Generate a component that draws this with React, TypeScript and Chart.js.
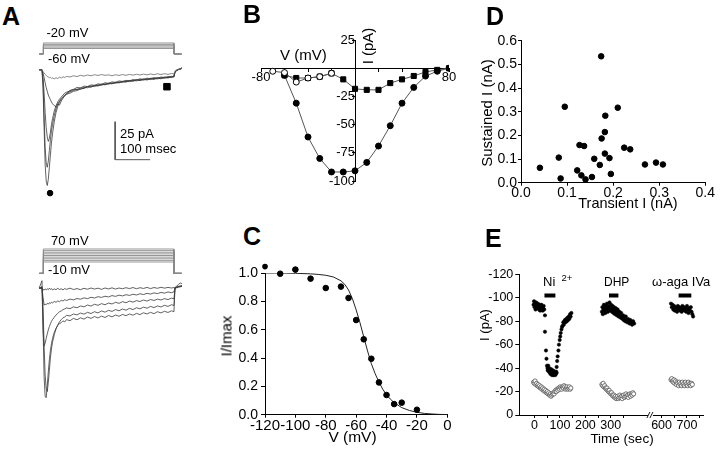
import React, { useEffect, useRef } from 'react';
import { Chart, registerables } from 'chart.js';

Chart.register(...registerables);

const FONT = '"Liberation Sans", Arial, Helvetica, sans-serif';
Chart.defaults.font.family = FONT;
Chart.defaults.color = '#000';

// ---------------- Panel A : current traces ----------------
const traceTime = [-8, 0, 3, 6, 9, 12, 15, 18, 21, 24, 27, 30, 35, 40, 45, 50, 55, 60, 65, 70, 80, 90, 100, 110, 120, 130, 140, 150, 160, 170, 180, 190, 200, 210, 220, 230, 240, 250, 260, 270, 280, 290, 300, 310, 320, 330, 340, 350, 360, 370, 377, 380, 385, 390, 395, 400];

const topTrace5 = [0.3, 0, -12, -38, -62, -73, -76, -72, -64, -56, -48, -42,
  -34, -28, -24, -21, -19.5, -18, -17.2, -16,
  -15.2, -14, -13.6, -12.4, -12.1, -11, -11.3, -10.2, -10.5, -9.4,
  -9.8, -8.7, -9.1, -8.2, -8.5, -7.6, -8, -7.1, -7.4, -6.5,
  -7, -6.1, -6.6, -5.8, -6.2, -5.3, -5.8, -4.9, -5.3, -4.4,
  -4.6, -1.5, -0.5, 0.2, 0.6, 1.4];
const topTrace4 = [0, 0.2, -9, -30, -51, -61, -64, -60, -53, -46, -40, -36,
  -30, -25.5, -22.5, -20.5, -18.8, -17.6, -16.4, -15.6,
  -14.3, -13.5, -12.6, -12.8, -11.4, -11.7, -10.5, -10.9, -9.8, -10.1,
  -9.1, -9.4, -8.5, -8.8, -7.9, -8.2, -7.3, -7.7, -6.8, -7.2,
  -6.3, -6.7, -5.9, -6.3, -5.5, -5.9, -5.1, -5.5, -4.7, -5,
  -4.3, -1.2, -0.3, 0.3, 0.4, 1.1];
const topTrace3 = [0.2, 0, -5, -15, -28, -38, -44, -47, -45, -41, -36, -32,
  -27, -23.5, -21, -19.2, -17.8, -16.5, -15.2, -14.6,
  -13.8, -12.7, -12.9, -11.8, -12, -10.9, -11.1, -10.1, -10.4, -9.3,
  -9.6, -8.8, -9, -8, -8.3, -7.4, -7.7, -6.9, -7.2, -6.4,
  -6.7, -5.9, -6.2, -5.4, -5.8, -5, -5.4, -4.6, -5, -4.2,
  -4.4, -1, 0, 0.4, 0.8, 1.2];
const topTrace2 = [0, 0.3, -2, -5, -8.5, -11.5, -14, -16.5, -18, -19.5, -21, -22.2,
  -23.4, -24.2, -22.3, -23.1, -20.4, -18.6, -16.7, -15.5,
  -13.4, -12.8, -11.5, -11.8, -10.6, -10.9, -9.8, -10.1, -9.1, -9.5,
  -8.4, -8.8, -7.8, -8.2, -7.2, -7.6, -6.8, -7.1, -6.3, -6.6,
  -5.8, -6.2, -5.4, -5.7, -5, -5.4, -4.6, -5, -4.3, -4.6,
  -4, -1.3, -0.2, 0.3, 0.9, 1.3];
const topTrace1 = [0, 0, -1, -2, -2.8, -3.5, -4.2, -4.6, -5.1, -4.8, -5.5, -5.2,
  -5.8, -5.1, -5.6, -4.7, -5.3, -4.5, -4.9, -4.2,
  -4.6, -3.8, -4.3, -3.5, -4, -3.3, -3.8, -3.1, -3.6, -3,
  -3.5, -3.2, -3.8, -3.1, -3.6, -3, -3.5, -2.9, -3.4, -2.8,
  -3.3, -2.7, -3.2, -2.6, -3.1, -2.5, -3, -2.4, -2.9, -2.3,
  -2.6, -0.8, 0, 0.5, 0.7, 1.2];

const botTraceA = [0.2, 5, -25, -58, -71, -72, -64, -55, -47, -41, -36.5, -33,
  -29, -26.3, -24.5, -23.2, -22.6, -21.4, -22.1, -20.6,
  -21.3, -19.8, -20.7, -19.4, -20.3, -18.9, -19.8, -18.6, -19.5, -18.3,
  -19.2, -17.9, -18.8, -17.6, -18.4, -17.2, -18, -16.9, -17.7, -16.5,
  -17.3, -16.1, -16.9, -15.8, -16.7, -15.4, -16.2, -15.1, -15.9, -14.8,
  -15.4, 0.5, 1.5, 2.5, 3.5, 3];
const botTraceB = [0, 1, -12, -38, -57, -66, -68, -62, -54, -46, -40, -35.5,
  -30.5, -26.8, -24, -22.1, -20.6, -19.4, -18.9, -17.8,
  -18.2, -16.9, -17.5, -16.3, -17, -15.8, -16.6, -15.4, -16.2, -14.9,
  -15.7, -14.5, -15.2, -14, -14.8, -13.6, -14.4, -13.2, -14, -12.8,
  -13.5, -12.4, -13.1, -11.9, -12.7, -11.6, -12.3, -11.2, -11.9, -10.8,
  -11.3, 0.2, 0.8, 1.3, 1.6, 1.8];
const botTraceC = [0, 1, -28, -38, -36, -33, -30, -27.4, -25.2, -23.4, -21.8, -20.6,
  -19, -17.6, -16.5, -15.4, -14.9, -14, -13.6, -12.9,
  -13.4, -12.2, -12.8, -11.6, -12.2, -11, -11.7, -10.5, -11.2, -10.1,
  -10.8, -9.7, -10.3, -9.2, -9.9, -8.8, -9.5, -8.4, -9.1, -8.1,
  -8.7, -7.7, -8.4, -7.4, -8, -7.1, -7.7, -6.8, -7.4, -6.5,
  -6.9, 0, 0.6, 1, 1.3, 1.5];
const botTraceD = [0, 0, -6, -11, -10.5, -10.8, -9.9, -10.4, -9.5, -10, -9.1, -9.6,
  -8.7, -9.2, -8.3, -8.8, -7.9, -8.4, -7.5, -8,
  -7.1, -7.6, -6.7, -7.2, -6.3, -6.8, -5.9, -6.4, -5.5, -6,
  -5.2, -5.7, -4.8, -5.3, -4.5, -5, -4.2, -4.7, -3.9, -4.4,
  -3.6, -4.1, -3.3, -3.8, -3, -3.5, -2.7, -3.2, -2.4, -2.9,
  -2.3, 0, 0.4, 0.8, 1, 1.2];
const botTraceE = [0, 0, -0.8, -1.2, -0.4, -1, -0.3, -0.9, 0.1, -0.7, -0.2, -1.1,
  -0.4, -0.9, 0, -0.8, -0.3, -1, -0.2, -0.7,
  0.1, -0.8, -0.2, -0.9, 0, -0.6, 0.2, -0.5, 0.1, -0.7,
  0.2, -0.4, 0.3, -0.5, 0.2, -0.3, 0.4, -0.2, 0.5, -0.3,
  0.4, -0.1, 0.6, -0.2, 0.5, 0, 0.7, 0.1, 0.6, 0.2,
  0.5, 0.3, 0.8, 1, 1.2, 1.4];

// voltage protocols (mV) and step timing (ms)
const topStepLevels = [-20, -30, -40, -50, -60];
const topHolding = -100;
const bottomStepLevels = [70, 60, 50, 40, 30, 20, 10, 0, -10];
const bottomHolding = -80;
const stepTimes = [-8, 4, 377, 399];

// markers: transient peak (circle) and sustained (square)
const markerT = [23, 357];
const markerI = [-81, -11];
// scale bar: 25 pA x 100 ms
const scaleBarT = [209, 209, 309];
const scaleBarI = [-34, -59, -59];

// ---------------- Panel B : I-V ----------------
const bPeakV = [-60, -50, -40, -30, -20, -10, 0, 10, 20, 30, 40, 50, 60, 70, 80];
const bPeakI = [-6.3, -31, -61, -80, -92, -92, -91, -83.5, -69, -51, -31, -17, -7, -2.7, 0];
const bSustV = [-60, -50, -40, -30, -20, -10, 0, 10, 20, 30, 40, 50, 60, 70, 80];
const bSustI = [-6.3, -8.7, -8.7, -7.5, -4.5, -9.9, -18.3, -19.2, -19.2, -13.2, -9.9, -6.9, -3.3, -1.5, 0];
const bOpenV = [-70, -60, -50, -40, -30, -20];
const bOpenI = [-2.7, -3.9, -12.3, -8.7, -7.5, -4.5];

// ---------------- Panel C : inactivation ----------------
const cV = [-120, -110, -100, -90, -80, -70, -65, -60, -55, -50, -45, -40, -35, -30, -20];
const cI = [1.045, 0.995, 1.024, 0.96, 0.894, 0.904, 0.824, 0.668, 0.532, 0.395, 0.228, 0.139, 0.075, 0.085, 0.035];
const fitV = [-120, -110, -100, -90, -85, -80, -75, -70, -67.5, -65, -62.5, -60, -57.5, -55, -52.5, -50, -47.5, -45, -42.5, -40, -37.5, -35, -30, -25, -20, -15, -10, -5, 0];
const fitI = [1.0, 1.0, 0.998, 0.994, 0.99, 0.984, 0.972, 0.945, 0.92, 0.88, 0.82, 0.74, 0.65, 0.55, 0.45, 0.36, 0.29, 0.23, 0.18, 0.14, 0.11, 0.085, 0.05, 0.03, 0.017, 0.009, 0.005, 0.002, 0.001];

// ---------------- Panel D : sustained vs transient ----------------
const dTransient = [0.041, 0.082, 0.086, 0.095, 0.122, 0.127, 0.131, 0.137, 0.140, 0.154, 0.159, 0.171, 0.174, 0.175, 0.182, 0.183, 0.182, 0.192, 0.195, 0.210, 0.224, 0.237, 0.269, 0.293, 0.308];
const dSustained = [0.063, 0.106, 0.018, 0.321, 0.052, 0.159, 0.031, 0.155, 0.014, 0.024, 0.101, 0.075, 0.534, 0.187, 0.214, 0.283, 0.123, 0.104, 0.037, 0.317, 0.148, 0.141, 0.077, 0.085, 0.077];

// ---------------- Panel E : time course ----------------
const niT = [-4, -2, 0, 1, 3, 4, 6, 7, 9, 10, 12, 13, 15, 16, 18, 19, 21, 22, 24, 25, 27, 28, 30, 32, 34, 36, 38,
  41, 41, 45, 47, 49, 51, 52, 54, 55, 57, 58, 60, 61, 63, 64, 66, 67, 69, 70, 72, 73, 75, 76, 78, 79, 81, 82, 84, 85, 87,
  87, 89, 91, 94, 96, 99, 101, 103, 106, 108, 110, 113, 115, 117, 120, 122, 125, 127, 130, 132, 135, 137, 140, 142, 145];
const niI = [-94, -97, -92, -95, -93, -90, -96, -93, -91, -94, -92, -95, -91, -93, -90, -94, -92, -89, -93, -91, -94, -90, -92, -89, -91, -93, -90,
  -85, -71, -55, -48, -42, -40, -38, -42, -39, -37, -40, -36, -38, -35, -37, -39, -36, -34, -37, -35, -38, -34, -36, -35, -37, -34, -36, -35, -37, -36,
  -41, -46, -50, -55, -60, -64, -67, -70, -73, -75, -76, -79, -77, -80, -81, -79, -82, -80, -83, -81, -84, -82, -86, -84, -87];
const niOpenT = [-4, -1, 2, 5, 8, 11, 14, 17, 20, 23, 26, 29, 32, 35, 38, 41, 44, 47, 50, 53, 56, 59, 62, 65, 68, 71, 74, 77, 80, 83, 86, 89, 92, 95, 98, 101, 104, 107, 110, 113, 116, 119, 122, 125, 128, 131, 134, 137, 140, 143];
const niOpenI = [-28, -27, -29, -26, -27, -25, -26, -24, -25, -23, -24, -22, -23, -21, -22, -20, -21, -19, -20, -18, -19, -17, -18, -16, -17, -18, -19, -18, -20, -21, -20, -22, -21, -23, -22, -24, -23, -22, -24, -23, -25, -24, -22, -23, -24, -22, -23, -24, -22, -23];
const dhpT = [265, 267, 269, 271, 273, 275, 277, 279, 281, 283, 285, 287, 289, 291, 293, 295, 297, 299, 301, 303, 305, 307, 309, 311, 313, 315, 317,
  320, 322, 324, 327, 329, 331, 334, 336, 339, 341, 344, 346, 349, 351, 354, 357, 359, 362, 365, 368, 371, 374, 377, 380, 384, 388, 392];
const dhpI = [-88, -92, -86, -90, -94, -89, -91, -87, -93, -90, -95, -91, -88, -93, -90, -96, -92, -89, -94, -91, -88, -93, -90, -87, -92, -89, -86,
  -91, -88, -85, -90, -87, -84, -88, -85, -83, -87, -84, -82, -85, -81, -83, -80, -84, -81, -79, -82, -80, -78, -81, -79, -77, -80, -78];
const dhpOpenT = [265, 268, 270, 273, 276, 279, 282, 285, 288, 291, 294, 297, 300, 303, 306, 309, 312, 315, 318, 321, 324, 327, 330, 333, 336, 339, 342, 345, 348, 351, 354, 357, 360, 363, 366, 369, 372, 375, 378, 381, 384, 387, 390];
const dhpOpenI = [-26, -25, -27, -24, -25, -23, -22, -23, -21, -20, -21, -19, -18, -19, -17, -16, -17, -15, -16, -14, -15, -16, -14, -15, -17, -15, -16, -14, -16, -17, -15, -16, -18, -16, -17, -15, -17, -18, -16, -18, -17, -19, -18];
const agaT = [637, 640, 643, 646, 649, 652, 655, 658, 661, 664, 667, 670, 673, 676, 679, 682, 685, 688, 691, 694, 697, 700, 703, 706, 709, 712, 715, 718, 721, 724];
const agaI = [-95, -92, -94, -90, -93, -89, -92, -91, -88, -93, -90, -92, -89, -91, -88, -93, -90, -92, -89, -91, -88, -93, -90, -87, -91, -89, -92, -88, -86, -84];
const agaOpenT = [637, 640, 643, 646, 649, 652, 655, 658, 661, 664, 667, 670, 673, 676, 679, 682, 685, 688, 691, 694, 697, 700, 703, 706, 709, 712, 715, 718, 721];
const agaOpenI = [-30, -31, -29, -28, -30, -27, -29, -26, -28, -27, -25, -28, -26, -27, -25, -28, -26, -27, -25, -28, -26, -27, -25, -28, -26, -27, -25, -27, -26];
const drugBarStart = [39, 293, 667];
const drugBarEnd = [82, 330, 717];
const drugBarLevel = -102;
const eTicks = [0, 100, 200, 300, 600, 700];
const eMinorTicks = [50, 150, 250, 350, 650, 750];
const eBreakGap = 100; // time removed by the axis break (400..600 s)
const eBreakAt = 458;

// ---------------- helpers ----------------
const xy = (xs: number[], ys: number[]) => xs.map((x, i) => ({ x, y: ys[i] }));
const eAxis = (t: number) => (t >= 500 ? t - eBreakGap : t);
const exy = (ts: number[], ys: number[]) => ts.map((t, i) => ({ x: eAxis(t), y: ys[i] }));

const stepPath = (level: number, hold: number) => [
  { x: stepTimes[0], y: hold }, { x: stepTimes[1], y: hold }, { x: stepTimes[1], y: level },
  { x: stepTimes[2], y: level }, { x: stepTimes[2], y: hold }, { x: stepTimes[3], y: hold },
];

const lineDs = (data: any[], color: string, width: number, extra: any = {}) => ({
  data, showLine: true, borderColor: color, borderWidth: width, pointRadius: 0, fill: false, ...extra,
});

const baseOpts = (padding: any) => ({
  responsive: false,
  animation: false,
  events: [],
  layout: { padding, autoPadding: false },
  plugins: { legend: { display: false }, tooltip: { enabled: false } },
});

const bare = (xmin: number, xmax: number, ymin: number, ymax: number) => ({
  ...baseOpts(0),
  scales: {
    x: { type: 'linear', display: false, min: xmin, max: xmax },
    y: { type: 'linear', display: false, min: ymin, max: ymax },
  },
});

function axis(o: any) {
  return {
    type: 'linear', min: o.min, max: o.max, reverse: !!o.reverse, position: o.position,
    border: { display: true, color: '#000', width: 1 },
    grid: { display: true, drawOnChartArea: false, drawTicks: true, tickLength: o.tickLength ?? 4, color: '#000', tickColor: '#000', lineWidth: 1 },
    ticks: {
      color: '#000', font: { size: o.fontSize, family: FONT, lineHeight: 1 }, padding: o.pad ?? 2,
      maxRotation: 0, minRotation: 0, autoSkip: false, callback: (v: number) => o.label(v),
    },
    afterBuildTicks: (ax: any) => { ax.ticks = o.ticks.map((v: number) => ({ value: v })); },
    afterFit: (ax: any) => {
      if (o.size == null) return;
      if (ax.isHorizontal()) ax.height = o.size; else ax.width = o.size;
    },
  };
}

// draws markers of dataset 0 that fall just outside the plot area (Chart.js skips them)
const outsidePoints = {
  id: 'outsidePoints',
  afterDatasetsDraw(chart: any) {
    const meta = chart.getDatasetMeta(0);
    const a = chart.chartArea;
    const ctx = chart.ctx;
    ctx.save();
    ctx.fillStyle = '#000';
    meta.data.forEach((pt: any) => {
      if (pt.y < a.top - 3 || pt.x < a.left - 3) {
        ctx.beginPath();
        ctx.arc(pt.x, pt.y, 2.8, 0, Math.PI * 2);
        ctx.fill();
      }
    });
    ctx.restore();
  },
};

const traceColor = '#3a3a3a';
const protoColor = '#8a8a8a';

// ---------------- chart builders ----------------
const makeTopProtocol = () => ({
  type: 'scatter',
  data: { datasets: topStepLevels.map((v) => lineDs(stepPath(v, topHolding), protoColor, 0.9)) },
  options: bare(-34.29, 422.86, -129.1, 30.9),
});

const makeBottomProtocol = () => ({
  type: 'scatter',
  data: { datasets: bottomStepLevels.map((v) => lineDs(stepPath(v, bottomHolding), protoColor, 0.9)) },
  options: bare(-34.29, 422.86, -108.5, 100.8),
});

const makeTopTraces = () => ({
  type: 'scatter',
  data: {
    datasets: [
      { data: [{ x: markerT[0], y: markerI[0] }], pointRadius: 2.8, pointBackgroundColor: '#000', pointBorderColor: '#000', clip: false },
      { data: [{ x: markerT[1], y: markerI[1] }], pointStyle: 'rect', pointRadius: 4.6, pointBackgroundColor: '#000', pointBorderColor: '#000', clip: false },
      lineDs(xy(scaleBarT, scaleBarI), '#555', 1),
      lineDs(xy(traceTime, topTrace1), '#6a6a6a', 0.8),
      lineDs(xy(traceTime, topTrace2), traceColor, 0.8),
      lineDs(xy(traceTime, topTrace3), traceColor, 0.8),
      lineDs(xy(traceTime, topTrace4), traceColor, 0.8),
      lineDs(xy(traceTime, topTrace5), traceColor, 0.8),
    ],
  },
  options: bare(-34.29, 422.86, -85.53, 7.89),
});

const makeBottomTraces = () => ({
  type: 'scatter',
  data: {
    datasets: [
      lineDs(xy(traceTime, botTraceE), traceColor, 0.8),
      lineDs(xy(traceTime, botTraceD), traceColor, 0.8),
      lineDs(xy(traceTime, botTraceC), traceColor, 0.8),
      lineDs(xy(traceTime, botTraceB), traceColor, 0.8),
      lineDs(xy(traceTime, botTraceA), traceColor, 0.8),
    ],
  },
  options: bare(-34.29, 422.86, -80.07, 6.78),
});

const makeB = () => ({
  type: 'scatter',
  data: {
    datasets: [
      lineDs(xy(bOpenV, bOpenI), '#555', 1, { pointRadius: 3, pointBackgroundColor: '#fff', pointBorderColor: '#000', pointBorderWidth: 1 }),
      lineDs(xy(bSustV, bSustI), '#555', 1, { pointStyle: 'rect', pointRadius: 3.6, pointBackgroundColor: '#000', pointBorderColor: '#000' }),
      lineDs(xy(bPeakV, bPeakI), '#555', 1, { pointRadius: 3, pointBackgroundColor: '#000', pointBorderColor: '#000' }),
    ],
  },
  options: {
    ...baseOpts({ left: 21, right: 11, top: 15, bottom: 19 }),
    scales: {
      x: axis({ min: -80, max: 80, position: { y: 0 }, ticks: [-80, -60, -40, -20, 20, 40, 60, 80], label: (v: number) => (v === -80 || v === 80 ? String(v) : ''), fontSize: 13, tickLength: 3, pad: 0 }),
      y: axis({ min: -100, max: 25, position: { x: 0 }, ticks: [25, 0, -25, -50, -75, -100], label: (v: number) => (v === 0 ? '' : String(v)), fontSize: 13, tickLength: 3, pad: 2 }),
    },
  },
});

const makeC = () => ({
  type: 'scatter',
  data: {
    datasets: [
      { data: xy(cV, cI), pointRadius: 2.8, pointBackgroundColor: '#000', pointBorderColor: '#000', clip: false },
      lineDs(xy(fitV, fitI), '#222', 1),
    ],
  },
  options: {
    ...baseOpts({ left: 0, right: 12.7, top: 18, bottom: 0 }),
    scales: {
      x: axis({ min: -120, max: 0, ticks: [-120, -100, -80, -60, -40, -20, 0], label: (v: number) => String(v), fontSize: 15, size: 39.3, tickLength: 3, pad: 1 }),
      y: axis({ min: 0, max: 1, ticks: [0, 0.2, 0.4, 0.6, 0.8, 1], label: (v: number) => v.toFixed(1), fontSize: 14, size: 65, tickLength: 4, pad: 3 }),
    },
  },
  plugins: [outsidePoints],
});

const makeD = () => ({
  type: 'scatter',
  data: {
    datasets: [
      { data: xy(dTransient, dSustained), pointRadius: 2.8, pointBackgroundColor: '#000', pointBorderColor: '#000', clip: false },
    ],
  },
  options: {
    ...baseOpts({ left: 0, right: 14.7, top: 15.7, bottom: 0 }),
    scales: {
      x: axis({ min: 0, max: 0.4, ticks: [0, 0.1, 0.2, 0.3, 0.4], label: (v: number) => v.toFixed(1), fontSize: 14, size: 42.3, tickLength: 3, pad: 0 }),
      y: axis({ min: 0, max: 0.6, ticks: [0, 0.1, 0.2, 0.3, 0.4, 0.5, 0.6], label: (v: number) => v.toFixed(1), fontSize: 14, size: 61, tickLength: 3, pad: 1 }),
    },
  },
});

const breakPlugin = {
  id: 'axisBreak',
  afterDraw(chart: any) {
    const { ctx } = chart;
    const x = chart.scales.x.getPixelForValue(eBreakAt);
    const y = chart.chartArea.bottom;
    ctx.save();
    ctx.fillStyle = '#fff';
    ctx.fillRect(x - 3, y - 1, 5, 3);
    ctx.strokeStyle = '#000';
    ctx.lineWidth = 0.9;
    ctx.beginPath();
    ctx.moveTo(x - 4, y + 3); ctx.lineTo(x - 1, y - 3);
    ctx.moveTo(x - 1, y + 3); ctx.lineTo(x + 2, y - 3);
    ctx.stroke();
    ctx.restore();
  },
};

const makeE = () => {
  const tickPos = [...eTicks, ...eMinorTicks].map(eAxis);
  const labelOf: any = {};
  eTicks.forEach((t) => { labelOf[eAxis(t)] = String(t); });
  const filled = { pointRadius: 1.7, pointBackgroundColor: '#000', pointBorderColor: '#000', pointBorderWidth: 0.5, clip: false };
  const open = { pointRadius: 2.1, pointBackgroundColor: '#fff', pointBorderColor: '#555', pointBorderWidth: 0.8, clip: false };
  return {
    type: 'scatter',
    data: {
      datasets: [
        ...drugBarStart.map((s, i) => lineDs([{ x: eAxis(s), y: drugBarLevel }, { x: eAxis(drugBarEnd[i]), y: drugBarLevel }], '#000', 4, { borderCapStyle: 'butt' })),
        { data: exy(niT, niI), ...filled },
        { data: exy(dhpT, dhpI), ...filled },
        { data: exy(agaT, agaI), ...filled },
        { data: exy(niOpenT, niOpenI), ...open },
        { data: exy(dhpOpenT, dhpOpenI), ...open },
        { data: exy(agaOpenT, agaOpenI), ...open },
      ],
    },
    options: {
      ...baseOpts({ left: 0, right: 17, top: 12.3, bottom: 0 }),
      scales: {
        x: axis({ min: -60, max: 663, ticks: tickPos, label: (v: number) => labelOf[v] ?? '', fontSize: 12.5, size: 39, tickLength: 3, pad: 1 }),
        y: axis({ min: -120, max: 0, reverse: true, ticks: [-120, -100, -80, -60, -40, -20, 0], label: (v: number) => String(v), fontSize: 12.5, size: 59.3, tickLength: 4, pad: 2 }),
      },
    },
    plugins: [breakPlugin],
  };
};

// ---------------- components ----------------
function ChartCanvas({ x, y, w, h, make }: any) {
  const ref = useRef<HTMLCanvasElement>(null);
  useEffect(() => {
    const chart = new Chart(ref.current as HTMLCanvasElement, make());
    return () => chart.destroy();
  }, []);
  return <canvas ref={ref} width={w} height={h} style={{ position: 'absolute', left: x, top: y, width: w, height: h }} />;
}

function Txt({ x, y, size = 13, bold = false, center = false, children }: any) {
  return (
    <div style={{
      position: 'absolute', left: x, top: y - size * 0.85, fontSize: size, lineHeight: 1,
      fontWeight: bold ? 'bold' : 'normal', fontFamily: FONT, whiteSpace: 'nowrap', color: '#000',
      transform: center ? 'translateX(-50%)' : undefined,
    }}>{children}</div>
  );
}

function VTxt({ cx, cy, size = 15, children }: any) {
  return (
    <div style={{
      position: 'absolute', left: cx, top: cy, fontSize: size, lineHeight: 1, fontFamily: FONT,
      whiteSpace: 'nowrap', color: '#000', transform: 'translate(-50%,-50%) rotate(-90deg)',
    }}>{children}</div>
  );
}

export default function App() {
  return (
    <div style={{ position: 'absolute', left: 0, top: 0, width: 720, height: 454, background: '#fff', overflow: 'hidden', fontFamily: FONT }}>
      {/* Panel A */}
      <ChartCanvas x={30} y={36} w={160} h={22} make={makeTopProtocol} />
      <ChartCanvas x={30} y={58} w={160} h={142} make={makeTopTraces} />
      <ChartCanvas x={30} y={244} w={160} h={34} make={makeBottomProtocol} />
      <ChartCanvas x={30} y={278} w={160} h={132} make={makeBottomTraces} />
      {/* Panels B-E */}
      <ChartCanvas x={240} y={25} w={220} h={175} make={makeB} />
      <ChartCanvas x={200} y={255} w={260} h={199} make={makeC} />
      <ChartCanvas x={460} y={25} w={260} h={200} make={makeD} />
      <ChartCanvas x={460} y={262} w={260} h={192} make={makeE} />

      <Txt x={2} y={25} size={25} bold>A</Txt>
      <Txt x={46.5} y={37.5}>-20 mV</Txt>
      <Txt x={48} y={63}>-60 mV</Txt>
      <Txt x={120} y={138.5}>25 pA</Txt>
      <Txt x={120} y={153.5}>100 msec</Txt>
      <Txt x={51} y={245}>70 mV</Txt>
      <Txt x={48} y={274}>-10 mV</Txt>

      <Txt x={243} y={23.3} size={25} bold>B</Txt>
      <Txt x={280} y={59.5} size={15}>V (mV)</Txt>
      <VTxt cx={367} cy={46} size={15}>I (pA)</VTxt>

      <Txt x={243} y={245} size={25} bold>C</Txt>
      <VTxt cx={226} cy={336} size={15}>I/Imax</VTxt>
      <Txt x={352.5} y={442} size={15.5} center>V (mV)</Txt>

      <Txt x={486} y={25} size={25} bold>D</Txt>
      <VTxt cx={486} cy={113} size={15}>Sustained I (nA)</VTxt>
      <Txt x={628} y={208.5} size={14.5} center>Transient I (nA)</Txt>

      <Txt x={485} y={247} size={25} bold>E</Txt>
      <VTxt cx={484} cy={325} size={13}>I (pA)</VTxt>
      <Txt x={622} y={443.5} size={13.5} center>Time (sec)</Txt>
      <Txt x={543} y={286.5} size={13}>Ni</Txt>
      <Txt x={561.5} y={281.5} size={9.5}>2+</Txt>
      <Txt x={604} y={286.5} size={12}>DHP</Txt>
      <Txt x={652} y={286.5} size={13}>ω-aga IVa</Txt>
    </div>
  );
}
